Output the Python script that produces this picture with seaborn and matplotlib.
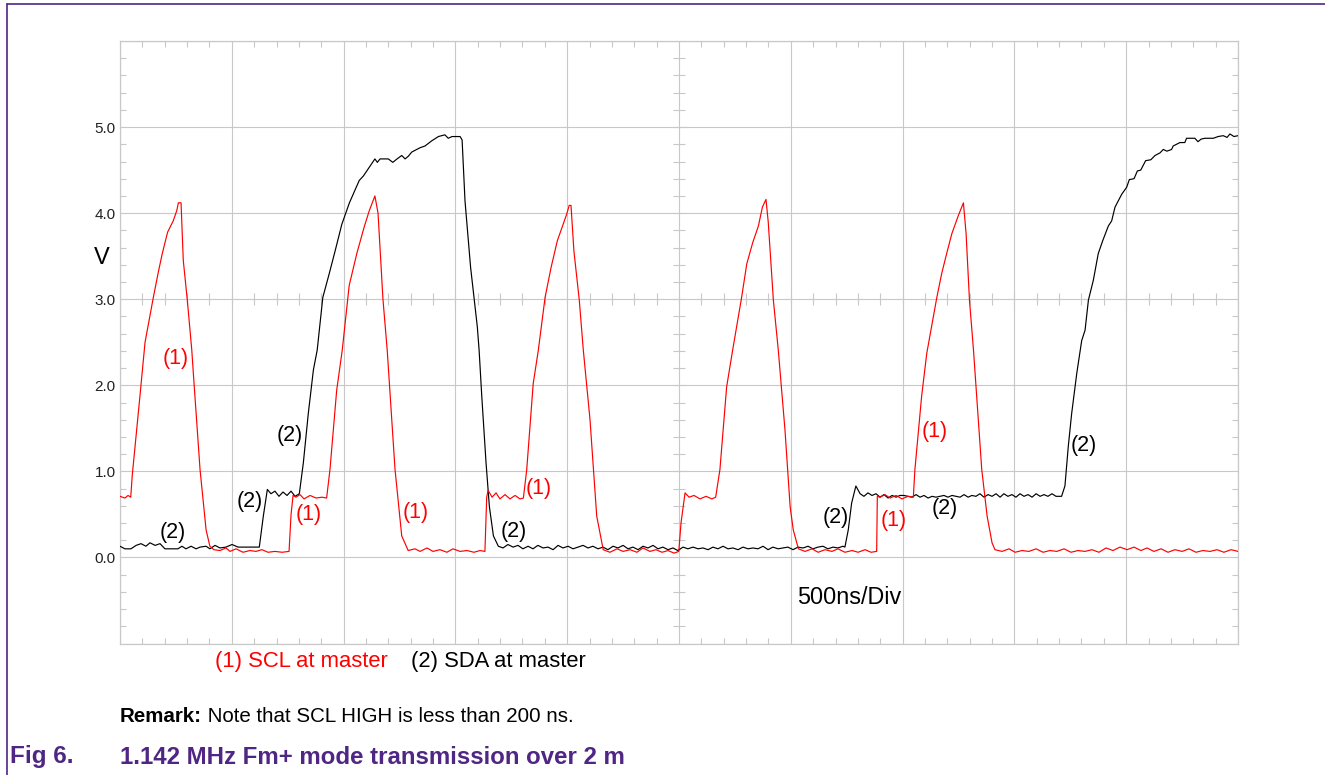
import numpy as np
import pandas as pd
import matplotlib.pyplot as plt
import seaborn as sns
from matplotlib.lines import Line2D

# Scope traces, time in ns (500 ns/div), level in V
scl_points = [
    (0, .71), (22, .69), (36, .72), (48, .70), (55, .96), (89, 1.87), (112, 2.50), (149, 3.02), (171, 3.31),
    (189, 3.53), (213, 3.78), (238, 3.91), (254, 4.03), (261, 4.12), (273, 4.12), (283, 3.45), (301, 2.99),
    (321, 2.41), (328, 2.14), (358, 1.02), (385, .32), (402, .13), (420, .09),
    (447, .08), (474, .11), (492, .07), (519, .10), (550, .06), (581, .08), (608, .07), (635, .09), (662, .06),
    (693, .07), (725, .06), (756, .07),
    (765, .50), (774, .72), (787, .70), (805, .73), (823, .68), (850, .72), (877, .69), (903, .70), (924, .69),
    (939, 1.02), (969, 1.94), (994, 2.41), (1025, 3.16), (1059, 3.53), (1091, 3.83), (1115, 4.03), (1140, 4.20),
    (1154, 4.00), (1176, 3.00), (1195, 2.41), (1230, 1.02), (1260, .25), (1289, .08),
    (1319, .10), (1342, .07), (1373, .11), (1400, .07), (1431, .09), (1462, .06), (1489, .10), (1521, .07),
    (1552, .08), (1583, .06), (1610, .08), (1632, .07),
    (1640, .70), (1646, .78), (1664, .70), (1682, .75), (1699, .68), (1722, .73), (1744, .68), (1767, .72),
    (1789, .68), (1804, .69),
    (1819, 1.02), (1848, 2.02), (1871, 2.41), (1901, 3.02), (1928, 3.37), (1956, 3.68), (1998, 3.99),
    (2009, 4.09), (2017, 4.09), (2030, 3.56), (2054, 2.99), (2072, 2.41), (2102, 1.60), (2132, .48), (2161, .09),
    (2191, .06), (2223, .10), (2250, .07), (2281, .09), (2312, .06), (2339, .11), (2370, .07), (2397, .09),
    (2424, .06), (2451, .08), (2478, .05), (2499, .07),
    (2509, .40), (2527, .75), (2545, .70), (2567, .72), (2594, .68), (2621, .71), (2647, .68), (2664, .70),
    (2683, 1.02), (2713, 1.98), (2740, 2.41), (2780, 3.02), (2803, 3.41), (2830, 3.66), (2855, 3.85),
    (2873, 4.07), (2889, 4.16), (2899, 3.90), (2922, 2.99), (2944, 2.41), (2974, 1.48), (2997, .59),
    (3011, .32), (3034, .10),
    (3064, .07), (3095, .10), (3122, .06), (3153, .09), (3184, .07), (3211, .10), (3242, .06), (3274, .08),
    (3301, .06), (3332, .09), (3359, .06), (3384, .07),
    (3387, .71), (3399, .70), (3421, .73), (3444, .69), (3471, .72), (3497, .68), (3524, .71), (3548, .70),
    (3555, 1.02), (3585, 1.87), (3608, 2.37), (3653, 3.02), (3675, 3.30), (3697, 3.53), (3720, 3.76),
    (3749, 3.97), (3772, 4.12), (3784, 3.76), (3799, 2.99), (3817, 2.41), (3854, 1.02), (3878, .48),
    (3900, .17), (3913, .09),
    (3945, .07), (3976, .10), (4003, .06), (4034, .08), (4065, .07), (4097, .10), (4128, .06), (4159, .08),
    (4190, .07), (4222, .10), (4253, .06), (4284, .08), (4316, .07), (4347, .09), (4378, .06), (4410, .11),
    (4441, .08), (4472, .12), (4504, .09), (4535, .12), (4566, .08), (4593, .11), (4624, .07), (4656, .10),
    (4687, .06), (4718, .09), (4750, .07), (4781, .10), (4812, .06), (4843, .08), (4875, .07), (4906, .09),
    (4937, .06), (4969, .09), (5000, .07),
]

sda_points = [
    (0, .13), (22, .10), (49, .10), (72, .14), (94, .16), (116, .13), (134, .17), (157, .14), (179, .16),
    (201, .10), (233, .10), (259, .10), (277, .13), (295, .10), (318, .13), (340, .10), (358, .12), (385, .13),
    (402, .10), (425, .14), (447, .11), (474, .12), (501, .15), (528, .12), (555, .12), (581, .12), (604, .12),
    (623, .12),
    (641, .48), (659, .79), (675, .74), (693, .77), (711, .71), (729, .76), (747, .72), (765, .77), (783, .71),
    (802, .74),
    (820, 1.10), (842, 1.67), (865, 2.18), (882, 2.41), (907, 3.02), (936, 3.30), (962, 3.56), (992, 3.87),
    (1011, 4.01), (1026, 4.12), (1070, 4.38), (1088, 4.43), (1140, 4.63), (1151, 4.59), (1163, 4.63),
    (1200, 4.63), (1220, 4.59), (1239, 4.63), (1260, 4.67), (1275, 4.63), (1289, 4.66), (1305, 4.71),
    (1342, 4.76), (1364, 4.78), (1394, 4.84), (1424, 4.89), (1453, 4.91), (1468, 4.87), (1485, 4.89),
    (1521, 4.89),
    (1530, 4.85), (1543, 4.14), (1558, 3.68), (1568, 3.37), (1583, 3.02), (1598, 2.68), (1606, 2.41),
    (1618, 1.87), (1637, 1.10), (1652, .59), (1670, .25), (1692, .13),
    (1713, .11), (1735, .15), (1758, .12), (1780, .14), (1802, .10), (1825, .13), (1847, .10), (1869, .14),
    (1892, .11), (1914, .12), (1937, .09), (1959, .14), (1981, .11), (2004, .13), (2026, .10), (2048, .12),
    (2071, .14), (2093, .11), (2115, .13), (2138, .10), (2160, .12), (2182, .09), (2205, .13), (2227, .11),
    (2250, .14), (2272, .10), (2294, .12), (2317, .09), (2339, .13), (2361, .11), (2384, .14), (2406, .10),
    (2428, .12), (2451, .09), (2473, .11), (2495, .08), (2518, .12), (2540, .10), (2563, .12), (2585, .10),
    (2607, .11), (2630, .09), (2652, .12), (2674, .10), (2697, .13), (2719, .10), (2741, .11), (2764, .09),
    (2786, .12), (2809, .10), (2831, .11), (2853, .10), (2876, .13), (2898, .09), (2920, .12), (2943, .10),
    (2965, .11), (2987, .12), (3010, .09), (3032, .12), (3055, .11), (3077, .13), (3099, .10), (3122, .12),
    (3144, .13), (3166, .10), (3189, .12), (3211, .11), (3233, .13), (3242, .12),
    (3257, .32), (3272, .63), (3291, .83),
    (3310, .74), (3327, .71), (3345, .75), (3363, .72), (3381, .74), (3399, .70), (3417, .73), (3435, .69),
    (3453, .72), (3471, .70), (3488, .72), (3506, .72), (3524, .71), (3542, .70), (3560, .73), (3578, .70),
    (3596, .72), (3614, .69), (3632, .71), (3649, .70), (3667, .71), (3685, .72), (3703, .70), (3721, .72),
    (3739, .71), (3757, .70), (3775, .73), (3793, .70), (3810, .72), (3828, .71), (3846, .74), (3864, .70),
    (3882, .73), (3900, .71), (3918, .74), (3936, .70), (3953, .74), (3971, .71), (3989, .73), (4007, .70),
    (4025, .74), (4043, .71), (4061, .73), (4079, .70), (4097, .74), (4115, .71), (4132, .73), (4150, .71),
    (4168, .74), (4186, .71), (4211, .71),
    (4226, .83), (4241, 1.29), (4256, 1.67), (4279, 2.14), (4301, 2.52), (4316, 2.64), (4331, 2.99),
    (4353, 3.22), (4375, 3.53), (4395, 3.68), (4420, 3.85), (4435, 3.91), (4450, 4.07), (4480, 4.22),
    (4502, 4.30), (4514, 4.39), (4535, 4.40), (4550, 4.49), (4565, 4.50), (4587, 4.61), (4610, 4.62),
    (4629, 4.67), (4651, 4.70), (4666, 4.74), (4682, 4.72), (4703, 4.74), (4710, 4.78), (4740, 4.82),
    (4762, 4.82), (4770, 4.87), (4807, 4.87), (4821, 4.83), (4835, 4.86), (4852, 4.87), (4890, 4.87),
    (4911, 4.89), (4934, 4.90), (4951, 4.88), (4964, 4.92), (4982, 4.89), (5000, 4.90),
]

# where the "(1)" / "(2)" marks sit on the traces
scl_marks = [(250, 2.31), (845, 0.50), (1324, 0.52), (1874, 0.80), (3462, 0.43), (3645, 1.46)]
sda_marks = [(237, 0.29), (581, 0.65), (760, 1.42), (1762, 0.30), (3202, 0.46), (3690, 0.57), (4311, 1.30)]

y_ticks = [-1, 0, 1, 2, 3, 4, 5, 6]
y_tick_labels = ['', '0.0', '1.0', '2.0', '3.0', '4.0', '5.0', '']

purple = '#4f2683'
grid_col = '#c8c8c8'
red = '#ff0000'

scl = pd.DataFrame(scl_points, columns=['t', 'v'])
sda = pd.DataFrame(sda_points, columns=['t', 'v'])

sns.set_style('white')
plt.rcParams['font.family'] = ['Liberation Sans', 'DejaVu Sans']
plt.rcParams['text.color'] = 'black'

fig = plt.figure(figsize=(13.25, 7.75), dpi=100)
ax = fig.add_axes([120 / 1325, 1 - 643.5 / 775, 1118 / 1325, 602.5 / 775])

sns.lineplot(data=sda, x='t', y='v', color='black', lw=0.85, sort=False, estimator=None, ax=ax, zorder=3)
sns.lineplot(data=scl, x='t', y='v', color=red, lw=0.85, sort=False, estimator=None, ax=ax, zorder=4)

ax.set_xlim(0, 5000)
ax.set_ylim(-1, 6)
ax.set_xlabel('')
ax.set_ylabel('')

ax.set_xticks(np.arange(0, 5001, 500))
ax.set_xticklabels([])
ax.set_yticks(y_ticks)
ax.set_yticklabels(y_tick_labels, fontsize=11, color='#222222')
ax.set_xticks(np.arange(0, 5001, 100), minor=True)
ax.set_yticks(np.arange(-1, 6.01, 0.2), minor=True)
ax.tick_params(which='major', length=0, pad=3)
ax.tick_params(which='minor', direction='in', length=4.5, width=0.8, color=grid_col,
               top=True, right=True, bottom=True, left=True)
ax.grid(True, which='major', color=grid_col, lw=0.8)
ax.set_axisbelow(True)
for s in ax.spines.values():
    s.set_color(grid_col)
    s.set_linewidth(0.9)

# cross ticks along the centre lines
ax.vlines(np.arange(0, 5001, 100), 3 - 0.07, 3 + 0.07, color=grid_col, lw=0.8, zorder=1)
ax.hlines(np.arange(-1, 6.01, 0.2), 2500 - 27, 2500 + 27, color=grid_col, lw=0.8, zorder=1)

for t, v in scl_marks:
    ax.text(t, v, '(1)', color=red, fontsize=15.5, ha='center', va='center', zorder=5)
for t, v in sda_marks:
    ax.text(t, v, '(2)', color='black', fontsize=15.5, ha='center', va='center', zorder=5)

ax.text(3028, -0.46, '500ns/Div', fontsize=16.8, color='black', ha='left', va='center')

fig.text(102 / 1325, 1 - 258 / 775, 'V', fontsize=17, color='black', ha='center', va='center')
fig.text(215 / 1325, 1 - 662 / 775, '(1) SCL at master', fontsize=15.8, color=red, ha='left', va='center')
fig.text(411 / 1325, 1 - 662 / 775, '(2) SDA at master', fontsize=15.8, color='black', ha='left', va='center')

rem = fig.text(120 / 1325, 1 - 717 / 775, 'Remark:', fontsize=14.8, fontweight='bold', color='black',
               ha='left', va='center')
ax.annotate(' Note that SCL HIGH is less than 200 ns.', xy=(1, 0), xycoords=rem, fontsize=14.8,
            color='black', ha='left', va='bottom', annotation_clip=False)
fig.text(10 / 1325, 1 - 757 / 775, 'Fig 6.', fontsize=17.5, fontweight='bold', color=purple, ha='left', va='center')
fig.text(120 / 1325, 1 - 757 / 775, '1.142 MHz Fm+ mode transmission over 2 m', fontsize=17.3,
         fontweight='bold', color=purple, ha='left', va='center')

# purple frame (top and left only)
fig.add_artist(Line2D([7 / 1325, 1], [1 - 4 / 775, 1 - 4 / 775], color=purple, lw=1.2))
fig.add_artist(Line2D([7 / 1325, 7 / 1325], [0, 1 - 4 / 775], color=purple, lw=1.2))

fig.savefig('out.png', dpi=100)
